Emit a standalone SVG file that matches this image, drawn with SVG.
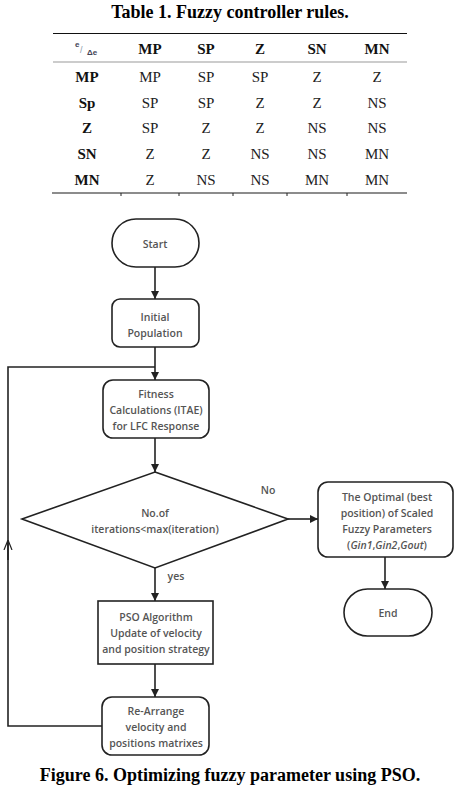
<svg xmlns="http://www.w3.org/2000/svg" width="454" height="786" viewBox="0 0 454 786">
<style>
.tt{font-family:"Liberation Serif",serif;font-weight:bold;font-size:18px;fill:#000}
.th{font-family:"Liberation Serif",serif;font-weight:bold;font-size:15px;fill:#111;text-anchor:middle}
.td{font-family:"Liberation Serif",serif;font-size:15px;fill:#222;text-anchor:middle}
.n{fill:#fff;stroke:#222;stroke-width:1.6}
.lb{font-family:"Open Sans","Noto Sans",sans-serif;font-weight:600;font-size:10.5px;fill:#555;text-anchor:middle}
.c{fill:none;stroke:#222;stroke-width:1.6}
</style>
<defs>
<marker id="ah" viewBox="0 0 10 10" refX="10" refY="5" markerWidth="8" markerHeight="8" markerUnits="userSpaceOnUse" orient="auto">
<path d="M0,0 L10,5 L0,10 z" fill="#222"/>
</marker>
<marker id="oh" viewBox="0 0 10 10" refX="10" refY="5" markerWidth="10" markerHeight="10" markerUnits="userSpaceOnUse" orient="auto">
<path d="M0,1 L10,5 L0,9" fill="none" stroke="#222" stroke-width="1.2"/>
</marker>
</defs>
<rect width="454" height="786" fill="#fff"/>
<g id="table">
<text class="tt" x="230" y="18" text-anchor="middle">Table 1. Fuzzy controller rules.</text>
<line x1="53" y1="33.5" x2="407" y2="33.5" stroke="#111" stroke-width="1"/>
<line x1="53" y1="62" x2="407" y2="62" stroke="#999" stroke-width="1.2"/>
<line x1="52" y1="193" x2="407" y2="193" stroke="#666" stroke-width="1.5"/>
<g stroke="#222" stroke-width="1"><line x1="121" y1="193" x2="121" y2="196"/><line x1="179" y1="193" x2="179" y2="196"/><line x1="233" y1="193" x2="233" y2="196"/><line x1="287" y1="193" x2="287" y2="196"/><line x1="347" y1="193" x2="347" y2="196"/></g>
<text x="75" y="47" font-family="Liberation Sans,sans-serif" font-size="8" font-weight="bold" fill="#445">e</text>
<text x="80" y="53" font-family="Liberation Sans,sans-serif" font-size="9" fill="#89a">/</text>
<text x="87" y="55" font-family="Liberation Sans,sans-serif" font-size="8" font-weight="bold" fill="#445">Δe</text>
<text class="th" x="150" y="54">MP</text><text class="th" x="206" y="54">SP</text><text class="th" x="260" y="54">Z</text><text class="th" x="317" y="54">SN</text><text class="th" x="377" y="54">MN</text>
<text class="th" x="87" y="82">MP</text><text class="td" x="150" y="82">MP</text><text class="td" x="206" y="82">SP</text><text class="td" x="260" y="82">SP</text><text class="td" x="317" y="82">Z</text><text class="td" x="377" y="82">Z</text>
<text class="th" x="87" y="108">Sp</text><text class="td" x="150" y="108">SP</text><text class="td" x="206" y="108">SP</text><text class="td" x="260" y="108">Z</text><text class="td" x="317" y="108">Z</text><text class="td" x="377" y="108">NS</text>
<text class="th" x="87" y="133">Z</text><text class="td" x="150" y="133">SP</text><text class="td" x="206" y="133">Z</text><text class="td" x="260" y="133">Z</text><text class="td" x="317" y="133">NS</text><text class="td" x="377" y="133">NS</text>
<text class="th" x="87" y="159">SN</text><text class="td" x="150" y="159">Z</text><text class="td" x="206" y="159">Z</text><text class="td" x="260" y="159">NS</text><text class="td" x="317" y="159">NS</text><text class="td" x="377" y="159">MN</text>
<text class="th" x="87" y="185">MN</text><text class="td" x="150" y="185">Z</text><text class="td" x="206" y="185">NS</text><text class="td" x="260" y="185">NS</text><text class="td" x="317" y="185">MN</text><text class="td" x="377" y="185">MN</text>
</g>
<g id="connectors">
<line class="c" x1="155" y1="267" x2="155" y2="299" marker-end="url(#ah)"/>
<line class="c" x1="155" y1="347" x2="155" y2="380" marker-end="url(#ah)"/>
<line class="c" x1="155" y1="438" x2="155" y2="472" marker-end="url(#ah)"/>
<line class="c" x1="288" y1="519" x2="318" y2="519" marker-end="url(#ah)"/>
<line class="c" x1="385" y1="557" x2="385" y2="589" marker-end="url(#ah)"/>
<line class="c" x1="155" y1="568" x2="155" y2="601" marker-end="url(#ah)"/>
<line class="c" x1="155" y1="664" x2="155" y2="697" marker-end="url(#ah)"/>
<polyline class="c" points="102,726 8,726 8,367 155,367"/>
<line class="c" x1="8" y1="560" x2="8" y2="540" marker-end="url(#oh)"/>
<text class="lb" x="268" y="494">No</text>
<text class="lb" x="176" y="580">yes</text>
</g>
<g id="start"><rect class="n" x="112" y="219" width="87" height="48" rx="24"/><text class="lb" x="155" y="248">Start</text></g>
<g id="init"><rect class="n" x="112" y="299" width="87" height="48" rx="8"/><text class="lb" x="155" y="321">Initial</text><text class="lb" x="155" y="337">Population</text></g>
<g id="fitness"><rect class="n" x="103" y="380" width="106" height="58" rx="10"/><text class="lb" x="156" y="398">Fitness</text><text class="lb" x="156" y="414">Calculations (ITAE)</text><text class="lb" x="156" y="430">for LFC Response</text></g>
<g id="decision"><polygon class="n" points="155,472 288,519 155,568 22,519"/><text class="lb" x="155" y="517">No.of</text><text class="lb" x="155" y="533">iterations&lt;max(iteration)</text></g>
<g id="optimal"><rect class="n" x="318" y="482" width="135" height="75" rx="10"/><text class="lb" x="387" y="501">The Optimal (best</text><text class="lb" x="387" y="517">position) of Scaled</text><text class="lb" x="387" y="533">Fuzzy Parameters</text><text class="lb" x="387" y="549">(<tspan font-style="italic">Gin1</tspan>,<tspan font-style="italic">Gin2</tspan>,<tspan font-style="italic">Gout</tspan>)</text></g>
<g id="end"><rect class="n" x="344" y="589" width="88" height="47" rx="23.5"/><text class="lb" x="388" y="617">End</text></g>
<g id="pso"><rect class="n" x="98" y="601" width="115" height="63"/><text class="lb" x="156" y="621">PSO Algorithm</text><text class="lb" x="156" y="637">Update of velocity</text><text class="lb" x="156" y="653">and position strategy</text></g>
<g id="rearrange"><rect class="n" x="102" y="697" width="107" height="58" rx="10"/><text class="lb" x="156" y="715">Re-Arrange</text><text class="lb" x="156" y="731">velocity and</text><text class="lb" x="156" y="747">positions matrixes</text></g>
<text class="tt" x="230" y="781" text-anchor="middle" font-size="19">Figure 6. Optimizing fuzzy parameter using PSO.</text>
</svg>
